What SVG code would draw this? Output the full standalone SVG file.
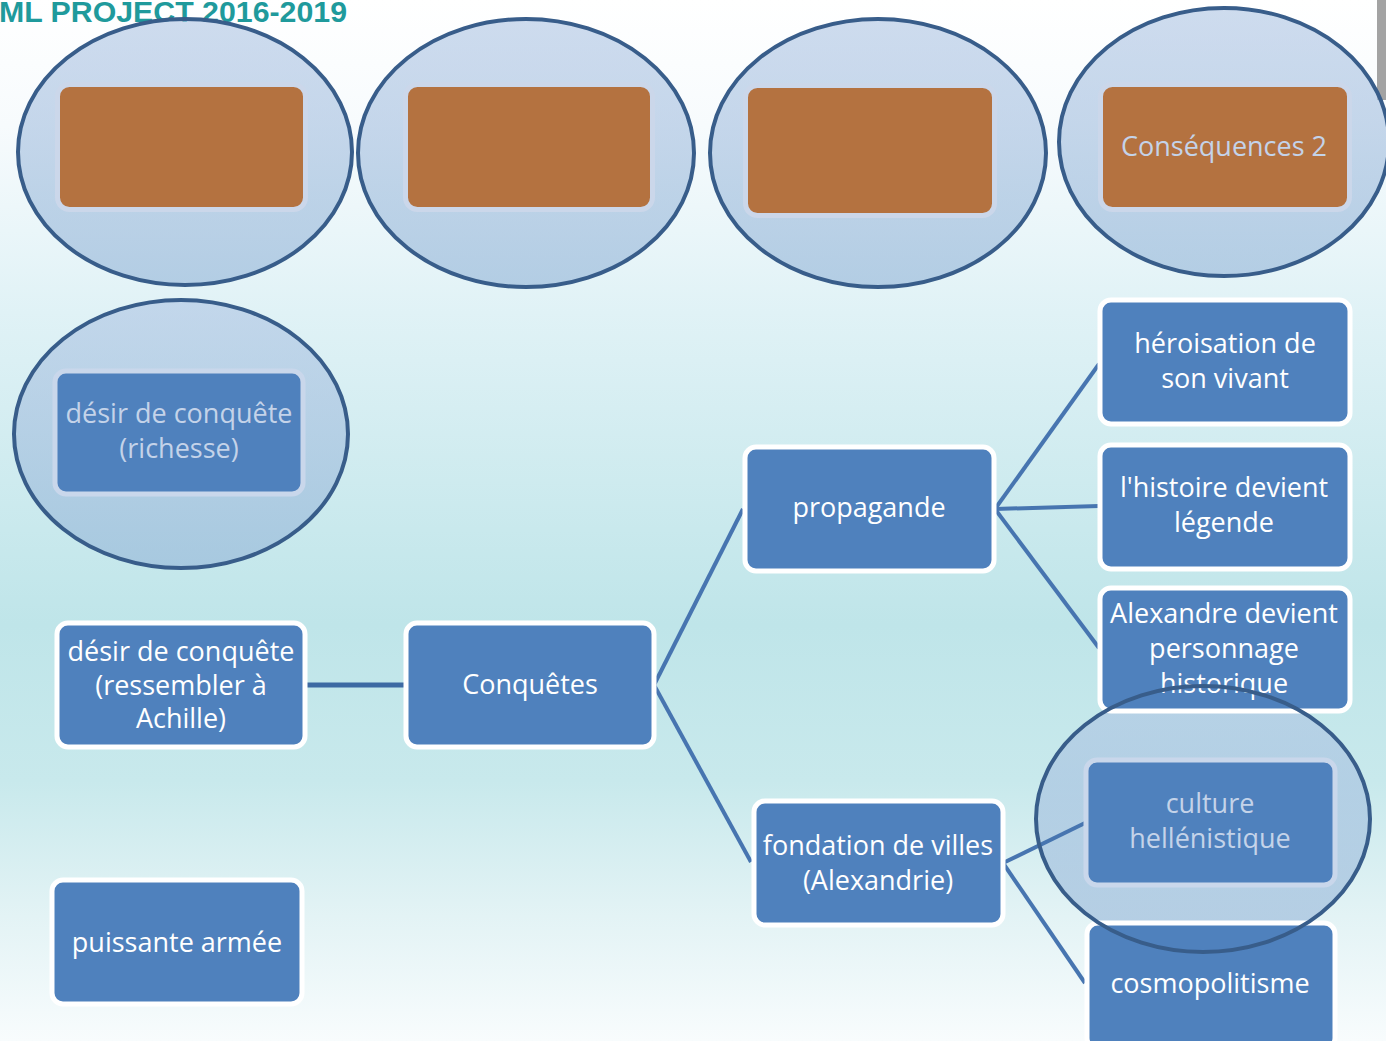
<svg xmlns="http://www.w3.org/2000/svg" width="1386" height="1041" viewBox="0 0 1386 1041">
<defs>
<linearGradient id="bg" x1="0" y1="0" x2="0" y2="1">
<stop offset="0" stop-color="#ffffff"/>
<stop offset="0.12" stop-color="#f7fbfd"/>
<stop offset="0.3" stop-color="#e0f2f6"/>
<stop offset="0.6" stop-color="#bfe5e9"/>
<stop offset="0.75" stop-color="#c8e9ec"/>
<stop offset="0.88" stop-color="#e3f3f5"/>
<stop offset="1" stop-color="#f8fcfd"/>
</linearGradient>
<linearGradient id="ell" x1="0" y1="0" x2="0" y2="1">
<stop offset="0" stop-color="#b0c6e4"/>
<stop offset="1" stop-color="#95b6d8"/>
</linearGradient>
<style>
.ell{fill:url(#ell);fill-opacity:0.62;stroke:#385d8a;stroke-width:4}
.ellf{fill:url(#ell);fill-opacity:0.62;stroke:none}
.ells{fill:none;stroke:#385d8a;stroke-width:4}
.org{fill:#b47240;stroke:#cbd7ea;stroke-width:5}
.box{fill:#4f81bd;stroke:#ffffff;stroke-width:5}
.boxl{fill:#4f81bd;stroke:#c9d7eb;stroke-width:5}
.t{font-family:"Open Sans","Noto Sans",sans-serif;font-size:27px;fill:#ffffff;text-anchor:middle}
.tl{fill:#c4d3e9}
.con{stroke:#4775b0;stroke-width:4;fill:none}
</style>
</defs>
<rect x="0" y="0" width="1386" height="1041" fill="url(#bg)"/>
<rect x="1377" y="0" width="9" height="100" fill="#a3a3a3"/>
<text x="-1" y="22" font-family="'Liberation Sans',Arial,sans-serif" font-weight="bold" font-size="29" fill="#1f9a9c" textLength="348" lengthAdjust="spacingAndGlyphs">ML PROJECT 2016-2019</text>

<g id="cons1">
<ellipse class="ell" cx="185" cy="152" rx="167" ry="133"/>
<rect class="org" x="57.5" y="84.5" width="248" height="125" rx="12"/>
</g>
<g id="cons2">
<ellipse class="ell" cx="526" cy="153" rx="168" ry="134"/>
<rect class="org" x="405.5" y="84.5" width="247" height="125" rx="12"/>
</g>
<g id="cons3">
<ellipse class="ell" cx="878" cy="153" rx="168" ry="134"/>
<rect class="org" x="745.5" y="85.5" width="249" height="130" rx="12"/>
</g>
<g id="cons4">
<ellipse class="ell" cx="1224" cy="142" rx="165" ry="134"/>
<rect class="org" x="1100.5" y="84.5" width="249" height="125" rx="12"/>
<text class="t tl" x="1224" y="156">Conséquences 2</text>
</g>
<g id="desir-richesse">
<ellipse class="ell" cx="181" cy="434" rx="167" ry="134"/>
<rect class="boxl" x="55" y="371" width="248" height="123" rx="11"/>
<text class="t tl" x="179" y="423">désir de conquête</text>
<text class="t tl" x="179" y="458">(richesse)</text>
</g>

<ellipse id="culture-halo-fill" class="ellf" cx="1203" cy="819" rx="167" ry="133"/>

<g id="connectors">
<line x1="305" y1="685" x2="406" y2="685" stroke="#3d6aa3" stroke-width="5"/>
<line class="con" x1="654" y1="685" x2="743" y2="509"/>
<line class="con" x1="654" y1="685" x2="751" y2="862"/>
<line class="con" x1="995" y1="509" x2="1099" y2="364"/>
<line class="con" x1="995" y1="509" x2="1099" y2="506"/>
<line class="con" x1="995" y1="509" x2="1099" y2="648"/>
<line class="con" x1="1003" y1="863" x2="1085" y2="823"/>
<line class="con" x1="1003" y1="863" x2="1085" y2="983"/>
</g>

<g id="desir-achille">
<rect class="box" x="57" y="623" width="248" height="124" rx="11"/>
<text class="t" x="181" y="661">désir de conquête</text>
<text class="t" x="181" y="695">(ressembler à</text>
<text class="t" x="181" y="728">Achille)</text>
</g>
<g id="conquetes">
<rect class="box" x="406" y="623" width="248" height="124" rx="11"/>
<text class="t" x="530" y="694">Conquêtes</text>
</g>
<g id="propagande">
<rect class="box" x="745" y="447" width="249" height="124" rx="11"/>
<text class="t" x="869" y="517">propagande</text>
</g>
<g id="heroisation">
<rect class="box" x="1100" y="300" width="250" height="124" rx="11"/>
<text class="t" x="1225" y="353">héroisation de</text>
<text class="t" x="1225" y="388">son vivant</text>
</g>
<g id="histoire">
<rect class="box" x="1100" y="445" width="250" height="124" rx="11"/>
<text class="t" x="1224" y="497">l'histoire devient</text>
<text class="t" x="1224" y="532">légende</text>
</g>
<g id="alexandre">
<rect class="box" x="1100" y="588" width="250" height="123" rx="11"/>
<text class="t" x="1224" y="623">Alexandre devient</text>
<text class="t" x="1224" y="658">personnage</text>
<text class="t" x="1224" y="693">historique</text>
</g>
<g id="fondation">
<rect class="box" x="754" y="801" width="249" height="124" rx="11"/>
<text class="t" x="878" y="855">fondation de villes</text>
<text class="t" x="878" y="890">(Alexandrie)</text>
</g>
<g id="cosmopolitisme">
<rect class="box" x="1087" y="923" width="248" height="126" rx="11"/>
<text class="t" x="1210" y="993">cosmopolitisme</text>
</g>
<g id="puissante">
<rect class="box" x="52" y="880" width="250" height="124" rx="11"/>
<text class="t" x="177" y="952">puissante armée</text>
</g>
<g id="culture">
<ellipse class="ells" cx="1203" cy="819" rx="167" ry="133"/>
<rect class="boxl" x="1086" y="760" width="249" height="125" rx="11"/>
<text class="t tl" x="1210" y="813">culture</text>
<text class="t tl" x="1210" y="848">hellénistique</text>
</g>
</svg>
